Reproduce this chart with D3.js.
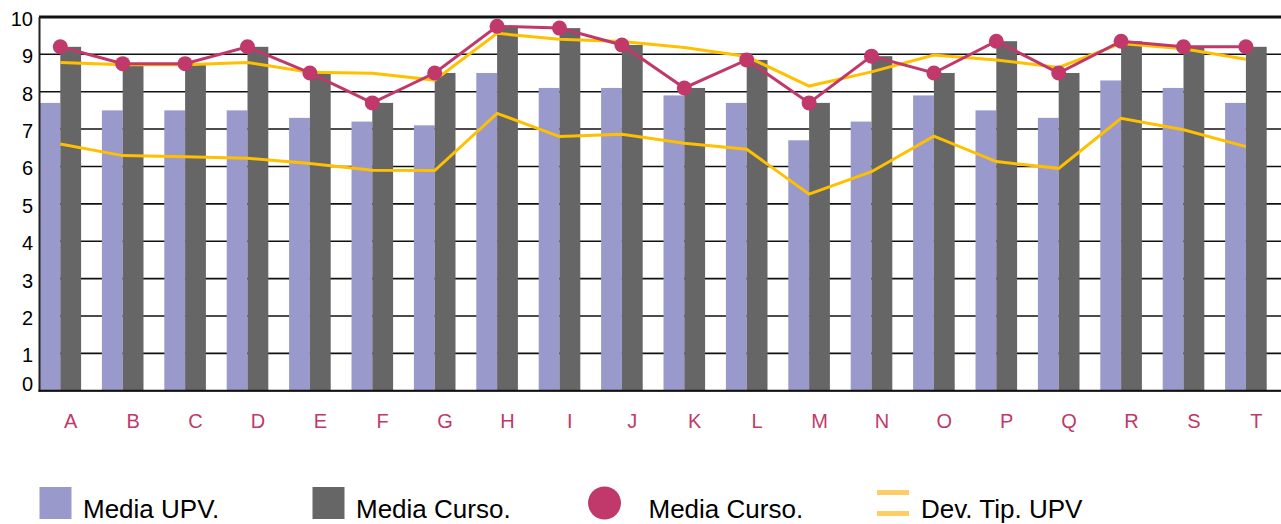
<!DOCTYPE html>
<html>
<head>
<meta charset="utf-8">
<script src="https://cdn.jsdelivr.net/npm/d3@7"></script>
<style>
    body { margin: 0; background: #fff; }
    svg { display: block; font-family: "Liberation Sans", Arial, sans-serif; }
</style>
</head>
<body>
<svg width="1281" height="524"></svg>
<script>
// categories on the x axis
var categories = ['A', 'B', 'C', 'D', 'E', 'F', 'G', 'H', 'I', 'J', 'K', 'L', 'M', 'N', 'O', 'P', 'Q', 'R', 'S', 'T'];

// Media UPV. (light bars)
var mediaUpv = [7.7, 7.5, 7.5, 7.5, 7.3, 7.2, 7.1, 8.5, 8.1, 8.1, 7.9, 7.7, 6.7, 7.2, 7.9, 7.5, 7.3, 8.3, 8.1, 7.7];

// Media Curso. (dark bars and the dotted line)
var mediaCurso = [9.2, 8.75, 8.75, 9.2, 8.5, 7.7, 8.5, 9.75, 9.7, 9.25, 8.1, 8.85, 7.7, 8.95, 8.5, 9.35, 8.5, 9.35, 9.2, 9.2];

// Dev. Tip. UPV - upper and lower band
var devUpper = [8.78, 8.72, 8.72, 8.78, 8.52, 8.49, 8.31, 9.56, 9.4, 9.34, 9.18, 8.94, 8.15, 8.53, 8.98, 8.85, 8.65, 9.29, 9.15, 8.87];
var devLower = [6.6, 6.29, 6.26, 6.22, 6.08, 5.9, 5.89, 7.42, 6.8, 6.86, 6.62, 6.46, 5.26, 5.86, 6.81, 6.13, 5.95, 7.29, 6.98, 6.53];

var yTicks = [0, 1, 2, 3, 4, 5, 6, 7, 8, 9, 10];
var legendItems = [
    { label: 'Media UPV.', kind: 'rect', color: '#9999cc' },
    { label: 'Media Curso.', kind: 'rect', color: '#666666' },
    { label: 'Media Curso.', kind: 'dot', color: '#c0396a' },
    { label: 'Dev. Tip. UPV', kind: 'lines', color: '#ffcc66' }
];

var LIGHT_BAR = '#9999cc';
var DARK_BAR = '#666666';
var CRIMSON = '#c0396a';
var GOLD = '#ffc000';

var svg = d3.select('svg');

// the plot runs a little past the right edge of the window, as in the original
var x = d3.scaleBand().domain(categories).range([39.5, 1287.5]).padding(0);
var y = d3.scaleLinear().domain([0, 10]).range([390.8, 16.9]);
var bw = x.bandwidth();

// point position for the lines: between the two bars of a group
var px = function (i) { return x(categories[i]) + bw / 3; };

// horizontal grid lines, behind everything
svg.append('g').selectAll('line')
    .data(yTicks)
    .enter().append('line')
    .attr('x1', 39).attr('x2', 1281)
    .attr('y1', function (d) { return y(d); })
    .attr('y2', function (d) { return y(d); })
    .attr('stroke', '#111')
    .attr('stroke-width', function (d) { return d === 10 ? 3 : 1.6; });

// bars
var bars = svg.append('g');
bars.selectAll('rect.upv')
    .data(mediaUpv)
    .enter().append('rect')
    .attr('class', 'upv')
    .attr('x', function (d, i) { return x(categories[i]); })
    .attr('width', bw / 3)
    .attr('y', function (d) { return y(d); })
    .attr('height', function (d) { return y(0) - y(d); })
    .attr('fill', LIGHT_BAR);

bars.selectAll('rect.curso')
    .data(mediaCurso)
    .enter().append('rect')
    .attr('class', 'curso')
    .attr('x', function (d, i) { return x(categories[i]) + bw / 3; })
    .attr('width', bw / 3)
    .attr('y', function (d) { return y(d); })
    .attr('height', function (d) { return y(0) - y(d); })
    .attr('fill', DARK_BAR);

// axis lines
svg.append('line')
    .attr('x1', 39.5).attr('x2', 39.5)
    .attr('y1', y(10)).attr('y2', y(0) + 1)
    .attr('stroke', '#222').attr('stroke-width', 2);
svg.append('line')
    .attr('x1', 38.5).attr('x2', 1281)
    .attr('y1', y(0)).attr('y2', y(0))
    .attr('stroke', '#111').attr('stroke-width', 2);

var line = d3.line()
    .x(function (d, i) { return px(i); })
    .y(function (d) { return y(d); });

// the two deviation lines
[devUpper, devLower].forEach(function (series) {
    svg.append('path')
        .datum(series)
        .attr('d', line)
        .attr('fill', 'none')
        .attr('stroke', GOLD)
        .attr('stroke-width', 3);
});

// Media Curso. line with markers
svg.append('path')
    .datum(mediaCurso)
    .attr('d', line)
    .attr('fill', 'none')
    .attr('stroke', CRIMSON)
    .attr('stroke-width', 3);

svg.append('g').selectAll('circle')
    .data(mediaCurso)
    .enter().append('circle')
    .attr('cx', function (d, i) { return px(i); })
    .attr('cy', function (d) { return y(d); })
    .attr('r', 7.5)
    .attr('fill', CRIMSON);

// y tick labels, the 0 is nudged up so it stays above the axis
svg.append('g').selectAll('text')
    .data(yTicks)
    .enter().append('text')
    .attr('x', 33)
    .attr('y', function (d) { return Math.min(y(d) + 2, y(0) - 7); })
    .attr('dy', '0.35em')
    .attr('text-anchor', 'end')
    .attr('font-size', 20)
    .attr('fill', '#000')
    .text(function (d) { return d; });

// category labels
svg.append('g').selectAll('text')
    .data(categories)
    .enter().append('text')
    .attr('x', function (d) { return x(d) + bw / 2; })
    .attr('y', 427.5)
    .attr('text-anchor', 'middle')
    .attr('font-size', 20)
    .attr('fill', CRIMSON)
    .text(function (d) { return d; });

// legend
var legendX = [39.5, 312.5, 588.5, 877];
var legend = svg.append('g').selectAll('g')
    .data(legendItems)
    .enter().append('g')
    .attr('transform', function (d, i) { return 'translate(' + legendX[i] + ',0)'; });

legend.each(function (d) {
    var g = d3.select(this);
    if (d.kind === 'rect') {
        g.append('rect').attr('x', 0).attr('y', 487).attr('width', 32).attr('height', 32).attr('fill', d.color);
        g.append('text').attr('x', 43.5).attr('y', 518).attr('font-size', 26).text(d.label);
    } else if (d.kind === 'dot') {
        g.append('circle').attr('cx', 16).attr('cy', 503).attr('r', 16.5).attr('fill', d.color);
        g.append('text').attr('x', 60).attr('y', 518).attr('font-size', 26).text(d.label);
    } else {
        g.append('rect').attr('x', 0).attr('y', 490).attr('width', 32).attr('height', 5).attr('fill', d.color);
        g.append('rect').attr('x', 0).attr('y', 511).attr('width', 32).attr('height', 5).attr('fill', d.color);
        g.append('text').attr('x', 44).attr('y', 518).attr('font-size', 26).text(d.label);
    }
});
</script>
</body>
</html>
